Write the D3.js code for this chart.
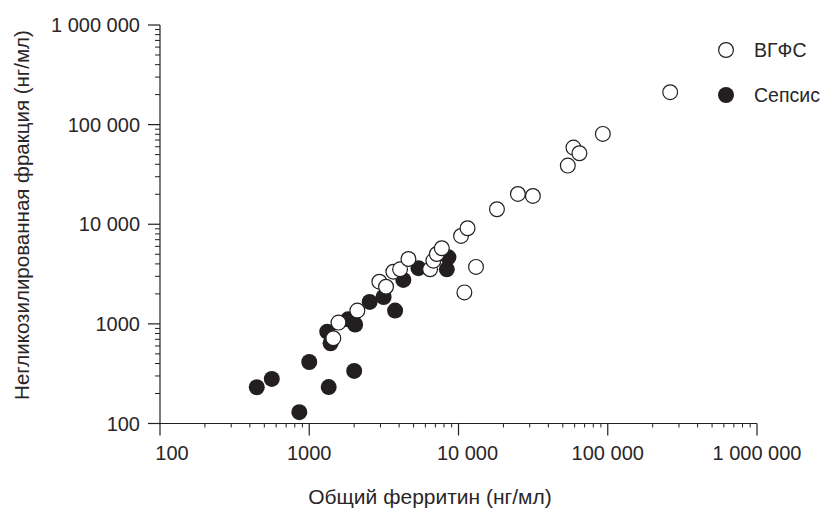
<!DOCTYPE html>
<html>
<head>
<meta charset="utf-8">
<script src="https://cdn.jsdelivr.net/npm/d3@7"></script>
<style>
  body { margin: 0; background: #fff; }
  svg text { font-family: "Liberation Sans", Arial, sans-serif; fill: #2a2627; }
</style>
</head>
<body>
<div id="chart"></div>
<script>
let w = 832;
let h = 508;

// total ferritin (x) and non-glycosylated fraction (y), ng/ml
let sepsisX = [445, 561, 858, 1000, 1350, 2000, 1320, 1390, 1820, 2030, 2540, 3150, 3760, 4270, 5390, 8560, 8350];
let sepsisY = [231, 280, 130, 414, 232, 337, 835, 639, 1110, 986, 1660, 1860, 1360, 2760, 3620, 4660, 3530];
let hlhX = [1450, 1570, 2100, 2950, 3270, 3660, 4060, 4620, 6450, 6790, 7160, 7730, 10400, 11500, 10950, 13100,
  18100, 25000, 31500, 54000, 58900, 64600, 92700, 262000];
let hlhY = [717, 1030, 1360, 2650, 2360, 3340, 3530, 4480, 3530, 4310, 5030, 5740, 7630, 9120, 2070, 3730,
  14150, 20150, 19240, 38800, 58800, 51600, 80700, 211500];

let groups = ["ВГФС", "Сепсис"];
let tickVals = [100, 1000, 10000, 100000, 1000000];
let tickText = ["100", "1000", "10 000", "100 000", "1 000 000"];

let ink = "#231f20";
let r = 8;

let svg = d3.select("#chart").append("svg")
  .attr("width", w)
  .attr("height", h);

let x = d3.scaleLog().domain([100, 1000000]).range([160, 757]);
let y = d3.scaleLog().domain([100, 1000000]).range([423.5, 25]);

// minor ticks 2..9 of every decade
let minor = [];
for (let d = 100; d < 1000000; d *= 10) {
  for (let k = 2; k <= 9; k++) minor.push(d * k);
}

function fmt(v) { return tickText[tickVals.indexOf(v)]; }

// x axis
let xg = svg.append("g").attr("transform", "translate(0,423.5)");
xg.append("line").attr("x1", x(100)).attr("x2", x(1000000)).attr("stroke", ink).attr("stroke-width", 1.2);
xg.selectAll(".xmin").data(minor).enter().append("line")
  .attr("x1", d => x(d)).attr("x2", d => x(d))
  .attr("y1", 0).attr("y2", 4)
  .attr("stroke", ink).attr("stroke-width", 1);
xg.selectAll(".xmaj").data(tickVals).enter().append("line")
  .attr("x1", d => x(d)).attr("x2", d => x(d))
  .attr("y1", 0).attr("y2", 12)
  .attr("stroke", ink).attr("stroke-width", 1.2);
xg.selectAll(".xlab").data(tickVals).enter().append("text")
  .attr("x", d => x(d) + (d === 100 ? 12 : d === 10000 ? 9 : 0))
  .attr("y", 36)
  .attr("text-anchor", "middle")
  .attr("font-size", "20px")
  .text(fmt);

// y axis
let yg = svg.append("g").attr("transform", "translate(160,0)");
yg.append("line").attr("y1", y(100)).attr("y2", y(1000000)).attr("stroke", ink).attr("stroke-width", 1.2);
yg.selectAll(".ymin").data(minor).enter().append("line")
  .attr("y1", d => y(d)).attr("y2", d => y(d))
  .attr("x1", 0).attr("x2", -5)
  .attr("stroke", ink).attr("stroke-width", 1);
yg.selectAll(".ymaj").data(tickVals).enter().append("line")
  .attr("y1", d => y(d)).attr("y2", d => y(d))
  .attr("x1", 0).attr("x2", -12)
  .attr("stroke", ink).attr("stroke-width", 1.2);
yg.selectAll(".ylab").data(tickVals).enter().append("text")
  .attr("x", -20)
  .attr("y", d => y(d))
  .attr("dy", "0.35em")
  .attr("text-anchor", "end")
  .attr("font-size", "20px")
  .text(fmt);

// axis titles
svg.append("text")
  .attr("x", 430).attr("y", 504)
  .attr("text-anchor", "middle")
  .attr("font-size", "21px")
  .text("Общий ферритин (нг/мл)");
svg.append("text")
  .attr("transform", "translate(29,215) rotate(-90)")
  .attr("text-anchor", "middle")
  .attr("font-size", "20.5px")
  .text("Негликозилированная фракция (нг/мл)");

// points: sepsis first, HLH on top
let sepsis = sepsisX.map((v, i) => ({ x: v, y: sepsisY[i] }));
let hlh = hlhX.map((v, i) => ({ x: v, y: hlhY[i] }));

svg.append("g").selectAll("circle").data(sepsis).enter().append("circle")
  .attr("cx", d => x(d.x)).attr("cy", d => y(d.y)).attr("r", r)
  .attr("fill", ink);
svg.append("g").selectAll("circle").data(hlh).enter().append("circle")
  .attr("cx", d => x(d.x)).attr("cy", d => y(d.y)).attr("r", r - 0.6)
  .attr("fill", "#fff").attr("stroke", ink).attr("stroke-width", 1.2);

// legend
let leg = svg.append("g").attr("transform", "translate(726,0)");
groups.forEach((g, i) => {
  let ly = 50 + i * 45;
  leg.append("circle").attr("cx", 0).attr("cy", ly).attr("r", i === 0 ? r - 0.6 : r)
    .attr("fill", i === 0 ? "#fff" : ink)
    .attr("stroke", i === 0 ? ink : "none").attr("stroke-width", 1.2);
  leg.append("text").attr("x", 28).attr("y", ly).attr("dy", "0.35em")
    .attr("font-size", "19.5px").text(g);
});
</script>
</body>
</html>
